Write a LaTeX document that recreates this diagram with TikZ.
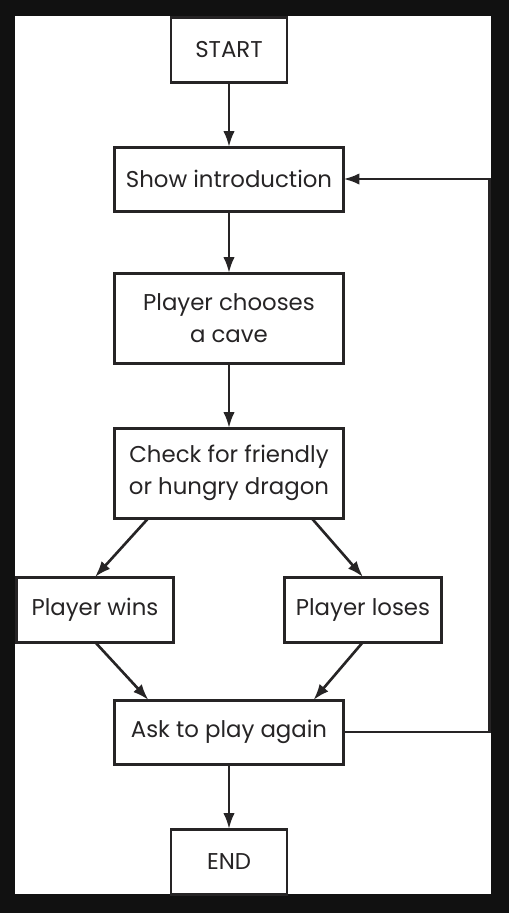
\documentclass[tikz,border=0pt]{standalone}
\usepackage{fontspec}
\setmainfont{Poppins}
\usetikzlibrary{positioning}
\usetikzlibrary{arrows.meta}
\definecolor{ink}{RGB}{38,36,37}
\definecolor{frame}{RGB}{17,17,17}

\begin{document}
\begin{tikzpicture}[
		block/.style={rectangle, draw=ink, line width=1.7pt, outer sep=0pt, text=ink, align=center, minimum width=4.58cm, minimum height=1.28cm, font=\fontsize{13}{18}\selectfont},
		small/.style={block, minimum width=2.32cm, minimum height=1.3cm},
		side/.style={block, minimum width=3.14cm, minimum height=1.3cm},
		tall/.style={block, minimum height=1.8cm},
		arrow/.style={-{Latex[length=3.2mm,width=2.3mm]}, line width=1.5pt, draw=ink}
	]
		% frame
		\fill[frame] (-4.58,0.99) rectangle (5.6,-17.27);
		\fill[white] (-4.28,0.67) rectangle (5.24,-16.89);

		\node[small] (start) at (0,0) {START};
		\node[block, below=1.3cm of start] (intro) {Show introduction};
		\node[tall, below=1.24cm of intro] (choose) {Player chooses\\a cave};
		\node[tall, below=1.3cm of choose] (check) {Check for friendly\\or hungry dragon};
		\node[side, below=1.18cm of check, xshift=-2.68cm] (wins) {Player wins};
		\node[side, below=1.18cm of check, xshift=2.68cm] (loses) {Player loses};
		\node[block, below=3.64cm of check] (again) {Ask to play again};
		\node[small, below=1.3cm of again] (finish) {END};

		\draw[arrow] (start) -- (intro);
		\draw[arrow] (intro) -- (choose);
		\draw[arrow] (choose) -- (check);
		\draw[arrow] ([xshift=0.68cm]check.south west) -- (wins.north);
		\draw[arrow] ([xshift=-0.64cm]check.south east) -- (loses.north);
		\draw[arrow] (wins.south) -- ([xshift=0.68cm]again.north west);
		\draw[arrow] (loses.south) -- ([xshift=-0.6cm]again.north east);
		\draw[arrow] (again) -- (finish);
		% loop back
		\draw[arrow] (again.east) -- ++(2.92cm,0) |- (intro.east);
	\end{tikzpicture}
\end{document}
